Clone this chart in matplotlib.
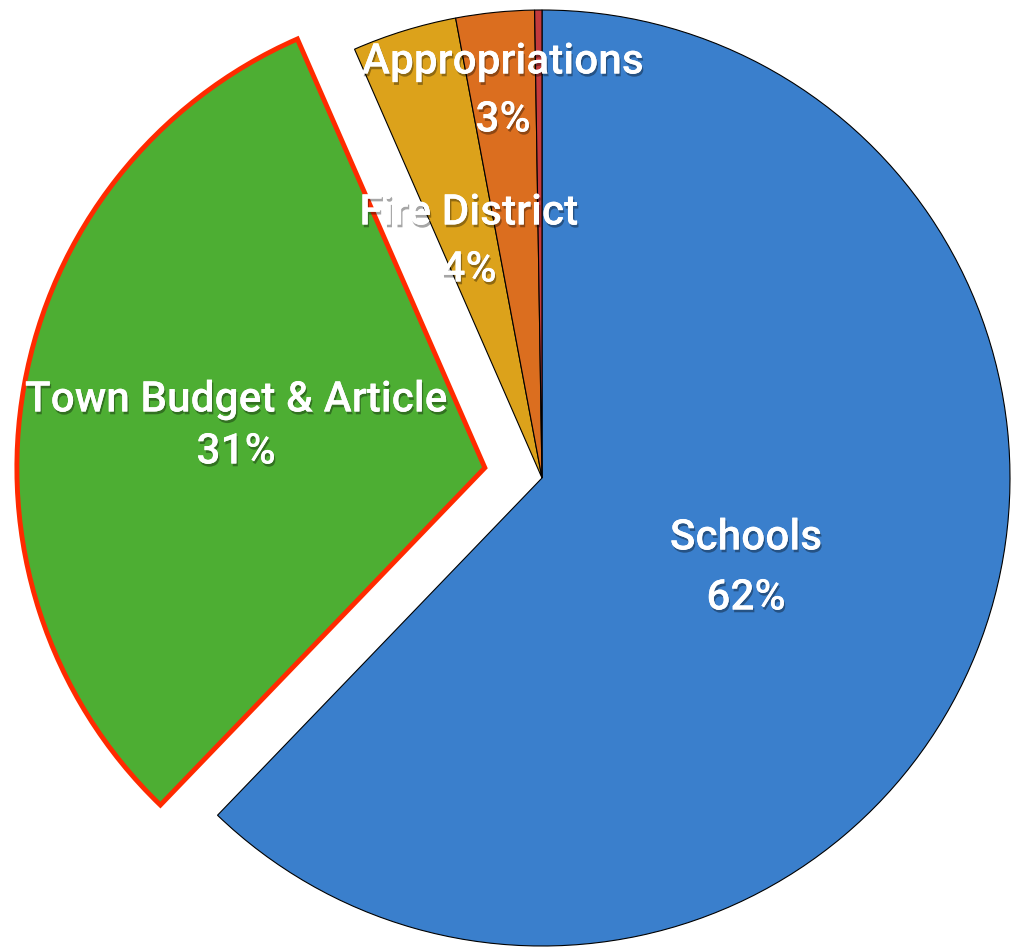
import matplotlib
matplotlib.use('Agg')
import matplotlib.pyplot as plt
import matplotlib.patheffects as pe

# slices, clockwise from 12 o'clock
labels = ["Schools", "Town Budget & Article", "Fire District", "Appropriations", ""]
shares = [62.1, 31.2, 3.6, 2.7, 0.25]
pct_text = ["62%", "31%", "4%", "3%", ""]
colors = ["#3A7FCC", "#4DAE33", "#DCA21B", "#DB6E1F", "#C43A3C"]
explode = [0, 0.124, 0, 0, 0]

# label centres in image pixels (x, name line y, pct line y)
label_pos = [(746, 538, 598), (236, 400, 452), (469, 213, 270), (503, 62, 120)]

W, H = 1012, 949
cx, cy, R = 542, 478, 468

fig = plt.figure(figsize=(W / 100, H / 100), dpi=100)
ax = fig.add_axes([0, 0, 1, 1])

wedges, _ = ax.pie(shares, colors=colors, explode=explode, startangle=90,
                   counterclock=False, wedgeprops=dict(edgecolor="black", linewidth=0.8))
wedges[1].set_edgecolor("#FF2A00")
wedges[1].set_linewidth(3.5)
wedges[1].set_zorder(3)

ax.set_xlim(-cx / R, (W - cx) / R)
ax.set_ylim(-(H - cy) / R, cy / R)
ax.set_aspect("equal")
ax.axis("off")

shadow = [pe.withSimplePatchShadow(offset=(1, -2), shadow_rgbFace="black", alpha=0.35), pe.Normal()]

def to_data(px, py):
    return (px - cx) / R, (cy - py) / R

for name, pct, (px, py1, py2) in zip(labels, pct_text, label_pos):
    for s, py in ((name, py1), (pct, py2)):
        x, y = to_data(px, py)
        ax.text(x, y, s, ha="center", va="center", color="white", fontsize=30.5,
                family="Roboto", fontweight="medium", path_effects=shadow, zorder=5)

fig.savefig("out.png", dpi=100)
